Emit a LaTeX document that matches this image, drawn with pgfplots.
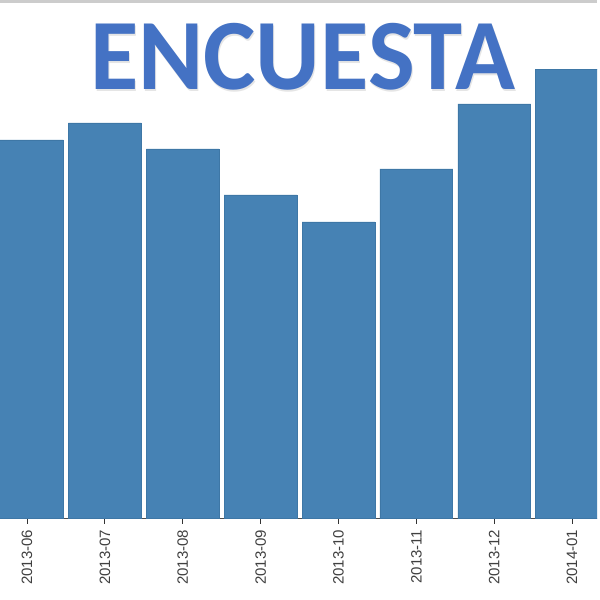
\documentclass[border=0pt]{standalone}
\usepackage{pgfplots}
\pgfplotsset{compat=1.18}
\usepackage{fontspec}
\setmainfont{Liberation Sans}
\newfontfamily\titlefont{Carlito}
\definecolor{barblue}{HTML}{4682B4}
\definecolor{baredge}{HTML}{3E77A6}
\definecolor{titleblue}{HTML}{4472C4}
\begin{document}
\begin{tikzpicture}[x=1pt,y=1pt]
\useasboundingbox (0,0) rectangle (600,600);
\fill[white] (0,0) rectangle (600,600);
\begin{axis}[
  at={(0pt,81.5pt)}, anchor=south west,
  scale only axis, width=597pt, height=518.5pt,
  xmin=-0.347, xmax=7.32, ymin=0, ymax=518.5,
  axis x line=bottom, axis y line=none,
  axis line style={draw=black!70, line width=0.8pt, -},
  xtick={0,...,7},
  xticklabels={2013-06,2013-07,2013-08,2013-09,2013-10,2013-11,2013-12,2014-01},
  tick align=outside, major tick length=5pt,
  xtick style={draw=black!80, line width=0.8pt},
  xticklabel style={rotate=90, anchor=east, font=\fontsize{15}{15}\selectfont, text=black!75, inner sep=0pt},
  xticklabel shift=6pt,
  ytick=\empty,
  clip=true,
]
\addplot[ybar, bar width=0.935, fill=barblue, draw=baredge, line width=0.6pt]
  coordinates {(0,378.5) (1,395.5) (2,369.5) (3,323.5) (4,296.5) (5,349.5) (6,414.5) (7,449)};
\end{axis}
\draw[black!20, line width=3pt] (0,598.5) -- (597,598.5);
\node[anchor=base, inner sep=0pt, text=black!10, xscale=0.98] at (303.5,508.5) {\titlefont\bfseries\fontsize{101}{101}\selectfont ENCUESTA};
\node[anchor=base, inner sep=0pt, text=titleblue, xscale=0.98] at (302.5,510) {\titlefont\bfseries\fontsize{101}{101}\selectfont ENCUESTA};
\end{tikzpicture}
\end{document}
